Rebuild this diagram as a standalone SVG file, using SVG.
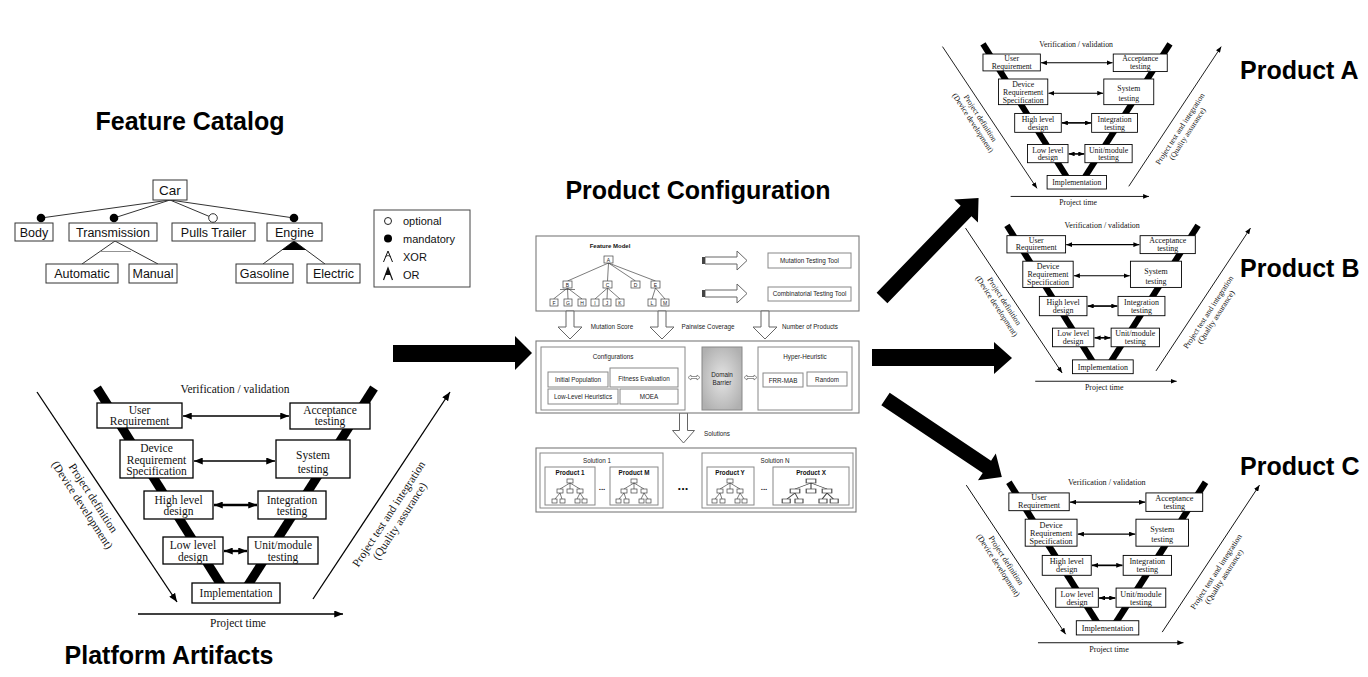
<svg xmlns="http://www.w3.org/2000/svg" width="1368" height="677" viewBox="0 0 1368 677">
<defs>
<style>
.big{font-family:"Liberation Sans",Arial,sans-serif;font-weight:bold;font-size:25px;fill:#000}
.fc{font-family:"Liberation Sans",Arial,sans-serif;font-size:12.5px;fill:#111;text-anchor:middle}
.fb{fill:#fff;stroke:#333;stroke-width:1}
.fl{stroke:#333;stroke-width:1;fill:none}
.lg{font-family:"Liberation Sans",Arial,sans-serif;font-size:11px;fill:#111}
.vt{font-family:"Liberation Serif","Times New Roman",serif;font-size:11.5px;fill:#111;text-anchor:middle}
.vd{font-family:"Liberation Serif","Times New Roman",serif;font-size:11.5px;fill:#111;text-anchor:middle}
.vb{fill:#fff;stroke:#000;stroke-width:1.3}
.bar{stroke:#000;stroke-width:9}
.arr{stroke:#000;stroke-width:1.3;marker-end:url(#ah)}
.darr{stroke:#000;stroke-width:1.6;marker-start:url(#ah);marker-end:url(#ah)}
.darr.b{stroke-width:2.4}
.pc{font-family:"Liberation Sans",Arial,sans-serif;font-size:6.3px;fill:#222;text-anchor:middle}
.pcb{font-family:"Liberation Sans",Arial,sans-serif;font-size:6.3px;fill:#111;text-anchor:middle;font-weight:bold}
.tiny{font-family:"Liberation Sans",Arial,sans-serif;font-size:5px;fill:#222;text-anchor:middle}
.pan{fill:#fff;stroke:#7a7a7a;stroke-width:1.1}
.ib{fill:#fff;stroke:#888;stroke-width:1}
.tl{stroke:#444;stroke-width:0.7;fill:none}
.tb{fill:#fff;stroke:#444;stroke-width:0.7}
.hol{fill:#fff;stroke:#666;stroke-width:1}
.blk{fill:#000}
</style>
<marker id="ah" viewBox="0 0 10 8" refX="10" refY="4" markerWidth="9" markerHeight="7" orient="auto-start-reverse" markerUnits="userSpaceOnUse">
<path d="M0,0 L10,4 L0,8 z" fill="#000"/>
</marker>
<radialGradient id="gb" cx="50%" cy="50%" r="60%">
<stop offset="0" stop-color="#e4e4e4"/>
<stop offset="1" stop-color="#b0b0b0"/>
</radialGradient>
<g id="mt">
<rect class="tb" x="-3" y="0" width="6" height="4"/>
<path class="tl" d="M0,4 L-10,10 M0,4 L0,10 M0,4 L10,10 M-10,14 L-15,20 M-10,14 L-8,20 M10,14 L7,20 M10,14 L14,20"/>
<rect class="tb" x="-13" y="10" width="6" height="4"/>
<rect class="tb" x="-3" y="10" width="6" height="4"/>
<rect class="tb" x="7" y="10" width="6" height="4"/>
<rect class="tb" x="-18" y="20" width="5" height="4"/>
<rect class="tb" x="-10" y="20" width="5" height="4"/>
<rect class="tb" x="5" y="20" width="5" height="4"/>
<rect class="tb" x="12" y="20" width="5" height="4"/>
</g>
</defs>
<rect width="1368" height="677" fill="#fff"/>

<!-- Titles -->
<text class="big" x="190" y="130" text-anchor="middle">Feature Catalog</text>
<text class="big" x="698" y="199" text-anchor="middle">Product Configuration</text>
<text class="big" x="169" y="664" text-anchor="middle">Platform Artifacts</text>
<text class="big" x="1240" y="79">Product A</text>
<text class="big" x="1240" y="277">Product B</text>
<text class="big" x="1240" y="475">Product C</text>

<!-- Feature catalog -->
<g id="feature-catalog">
<g id="fc-connectors">
<path class="fl" d="M170,200 L41,218 M170,200 L114,218 M170,200 L213,218 M170,200 L294,218"/>
<path class="fl" d="M115,241 L82,264 M115,241 L158,264 M294,241 L263,264 M294,241 L325,264"/>
<line x1="101" y1="251.5" x2="131" y2="251.5" stroke="#777" stroke-width="0.8"/>
<path d="M294,241 L281.9,250 L306.1,250 z" fill="#000"/>
<circle cx="41" cy="218" r="4.3" fill="#000"/>
<circle cx="114" cy="218" r="4.3" fill="#000"/>
<circle cx="213" cy="218" r="4.3" fill="#fff" stroke="#333" stroke-width="1"/>
<circle cx="294" cy="218" r="4.3" fill="#000"/>
</g>
<g id="fc-car"><rect class="fb" x="153" y="180" width="34" height="20"/><text class="fc" x="170" y="195" style="font-size:13.5px">Car</text></g>
<g id="fc-body"><rect class="fb" x="15" y="223" width="38" height="18"/><text class="fc" x="34" y="236.5">Body</text></g>
<g id="fc-transmission"><rect class="fb" x="69" y="223" width="88" height="18"/><text class="fc" x="113" y="236.5">Transmission</text></g>
<g id="fc-pulls"><rect class="fb" x="172" y="223" width="83" height="18"/><text class="fc" x="213.5" y="236.5">Pulls Trailer</text></g>
<g id="fc-engine"><rect class="fb" x="267" y="223" width="55" height="18"/><text class="fc" x="294.5" y="236.5">Engine</text></g>
<g id="fc-automatic"><rect class="fb" x="46" y="264" width="72" height="19"/><text class="fc" x="82" y="278">Automatic</text></g>
<g id="fc-manual"><rect class="fb" x="129" y="264" width="48" height="19"/><text class="fc" x="153" y="278">Manual</text></g>
<g id="fc-gasoline"><rect class="fb" x="236" y="264" width="57" height="19"/><text class="fc" x="264.5" y="278">Gasoline</text></g>
<g id="fc-electric"><rect class="fb" x="307" y="264" width="53" height="19"/><text class="fc" x="333.5" y="278">Electric</text></g>
</g>

<!-- Legend -->
<g id="legend">
<rect x="374" y="210" width="96" height="77" fill="#fff" stroke="#444" stroke-width="1"/>
<circle cx="388" cy="221" r="3.5" fill="#fff" stroke="#222" stroke-width="1"/>
<text class="lg" x="403" y="225">optional</text>
<circle cx="388" cy="238.5" r="4" fill="#000"/>
<text class="lg" x="403" y="242.5">mandatory</text>
<path d="M383.5,262 L388,251 L392.5,262" fill="none" stroke="#111" stroke-width="1"/>
<path d="M385.3,256.5 Q388,254.5 390.7,256.5" fill="none" stroke="#111" stroke-width="0.8"/>
<text class="lg" x="403" y="261">XOR</text>
<path d="M383.5,280 L388,268 L392.5,280" fill="none" stroke="#111" stroke-width="1.2"/>
<path d="M388,268 L385.3,275 L390.7,275 z" fill="#111"/>
<text class="lg" x="403" y="279">OR</text>
</g>

<!-- Product configuration: top panel -->
<g id="pc-feature-panel">
<rect class="pan" x="536" y="236" width="323" height="75"/>
<text class="pcb" x="610" y="247.5" style="font-size:6px">Feature Model</text>
<path class="tl" d="M608.5,263 L567.5,281 M608.5,263 L607.5,281 M608.5,263 L635.5,281 M608.5,263 L655.5,281"/>
<path class="tl" d="M567.5,288 L553.5,299 M567.5,288 L568,299 M567.5,288 L582,299 M560,289.5 L575,289.5 M607.5,288 L595,299 M607.5,288 L607,299 M607.5,288 L620,299 M655.5,288 L652,299 M655.5,288 L665,299"/>
<rect class="tb" x="604" y="256" width="9" height="7"/><text class="tiny" x="608.5" y="261.8">A</text>
<rect class="tb" x="563" y="281" width="9" height="7"/><text class="tiny" x="567.5" y="286.8">B</text>
<rect class="tb" x="603" y="281" width="9" height="7"/><text class="tiny" x="607.5" y="286.8">C</text>
<rect class="tb" x="631" y="281" width="9" height="7"/><text class="tiny" x="635.5" y="286.8">D</text>
<rect class="tb" x="651" y="281" width="9" height="7"/><text class="tiny" x="655.5" y="286.8">E</text>
<rect class="tb" x="550" y="299" width="8" height="7"/><text class="tiny" x="554" y="304.8">F</text>
<rect class="tb" x="564" y="299" width="8" height="7"/><text class="tiny" x="568" y="304.8">G</text>
<rect class="tb" x="578" y="299" width="8" height="7"/><text class="tiny" x="582" y="304.8">H</text>
<rect class="tb" x="591" y="299" width="8" height="7"/><text class="tiny" x="595" y="304.8">I</text>
<rect class="tb" x="603" y="299" width="8" height="7"/><text class="tiny" x="607" y="304.8">J</text>
<rect class="tb" x="616" y="299" width="8" height="7"/><text class="tiny" x="620" y="304.8">K</text>
<rect class="tb" x="648" y="299" width="8" height="7"/><text class="tiny" x="652" y="304.8">L</text>
<rect class="tb" x="661" y="299" width="8" height="7"/><text class="tiny" x="665" y="304.8">M</text>
<polygon class="hol" points="705,257 737,257 737,251 747,260.5 737,270 737,264 705,264"/>
<rect x="702" y="257" width="3" height="7" fill="#444"/>
<polygon class="hol" points="705,290 737,290 737,284 747,293.5 737,303 737,297 705,297"/>
<rect x="702" y="290" width="3" height="7" fill="#444"/>
<g id="pc-mutation-tool"><rect class="ib" x="768" y="253" width="83" height="15"/><text class="pc" x="809.5" y="263">Mutation Testing Tool</text></g>
<g id="pc-comb-tool"><rect class="ib" x="768" y="287" width="83" height="14"/><text class="pc" x="809.5" y="296.3">Combinatorial Testing Tool</text></g>
</g>

<!-- Down arrows -->
<g id="pc-down-arrows">
<polygon class="hol" points="566,311 574,311 574,327 582,327 570,339 558,327 566,327"/>
<polygon class="hol" points="658,311 666,311 666,327 674,327 662,339 650,327 658,327"/>
<polygon class="hol" points="761,311 769,311 769,327 777,327 765,339 753,327 761,327"/>
<text class="pc" x="612" y="329">Mutation Score</text>
<text class="pc" x="708" y="329">Pairwise Coverage</text>
<text class="pc" x="810" y="329">Number of Products</text>
<polygon class="hol" points="679.5,413 687.5,413 687.5,430.5 694.5,430.5 683.5,443 672.5,430.5 679.5,430.5"/>
<text class="pc" x="717" y="436">Solutions</text>
</g>

<!-- Middle panel -->
<g id="pc-search-panel">
<rect class="pan" x="536" y="341" width="323" height="72"/>
<g id="pc-configurations">
<rect class="ib" x="541" y="347" width="144" height="63"/>
<text class="pc" x="613" y="359">Configurations</text>
<rect class="ib" x="548" y="372" width="60" height="15"/><text class="pc" x="578" y="382">Initial Population</text>
<rect class="ib" x="610" y="368" width="68" height="19"/><text class="pc" x="644" y="381">Fitness Evaluation</text>
<rect class="ib" x="548" y="389" width="70" height="15"/><text class="pc" x="583" y="399">Low-Level Heuristics</text>
<rect class="ib" x="620" y="389" width="58" height="15"/><text class="pc" x="649" y="399">MOEA</text>
</g>
<polygon class="hol" points="688,377.5 691,375 691,376.5 697,376.5 697,375 700,377.5 697,380 697,378.5 691,378.5 691,380" style="stroke-width:0.7"/>
<g id="pc-domain-barrier">
<rect x="702" y="347" width="40" height="63" fill="url(#gb)" stroke="#888" stroke-width="1"/>
<text class="pc" x="722" y="377">Domain</text>
<text class="pc" x="722" y="385">Barrier</text>
</g>
<polygon class="hol" points="744,377.5 747,375 747,376.5 754,376.5 754,375 757,377.5 754,380 754,378.5 747,378.5 747,380" style="stroke-width:0.7"/>
<g id="pc-hyper-heuristic">
<rect class="ib" x="758" y="347" width="94" height="63"/>
<text class="pc" x="805" y="359">Hyper-Heuristic</text>
<rect class="ib" x="763" y="373" width="40" height="14"/><text class="pc" x="783" y="382.5">FRR-MAB</text>
<rect class="ib" x="807" y="372" width="40" height="14"/><text class="pc" x="827" y="381.5">Random</text>
</g>
</g>

<!-- Bottom panel -->
<g id="pc-solutions-panel">
<rect class="pan" x="536" y="448" width="320" height="64"/>
<g id="pc-solution-1">
<rect class="ib" x="540" y="453" width="123" height="55"/>
<text class="pc" x="597" y="463">Solution 1</text>
<rect class="ib" x="545" y="467" width="50" height="38"/><text class="pcb" x="570" y="475">Product 1</text>
<use href="#mt" transform="translate(570,479)"/>
<text class="pcb" x="602" y="490" style="font-size:8px">...</text>
<rect class="ib" x="610" y="467" width="48" height="38"/><text class="pcb" x="634" y="475">Product M</text>
<use href="#mt" transform="translate(634,479)"/>
</g>
<text class="pcb" x="683" y="490" style="font-size:13px">...</text>
<g id="pc-solution-n">
<rect class="ib" x="702" y="453" width="151" height="55"/>
<text class="pc" x="775" y="463">Solution N</text>
<rect class="ib" x="707" y="467" width="47" height="38"/><text class="pcb" x="730" y="475">Product Y</text>
<use href="#mt" transform="translate(730,479)"/>
<text class="pcb" x="764" y="490" style="font-size:8px">...</text>
<rect class="ib" x="773" y="467" width="76" height="38"/><text class="pcb" x="811" y="475">Product X</text>
<use href="#mt" transform="translate(811,479) scale(1.6,1)"/>
</g>
</g>

<!-- Big flow arrows -->
<g id="flow-arrows">
<polygon class="blk" points="393,345 515,345 515,336 532,353 515,370 515,362 393,362"/>
<polygon class="blk" points="872,349 994,349 994,342 1012,358 994,374 994,366 872,366"/>
<polygon class="blk" transform="translate(882,298) rotate(-46)" points="0,-7.5 121,-7.5 121,-16.5 139,0 121,16.5 121,7.5 0,7.5"/>
<polygon class="blk" transform="translate(885.5,399) rotate(33.8)" points="0,-7.5 122,-7.5 122,-16 140,0 122,16 122,7.5 0,7.5"/>
</g>

<!-- V-model: Platform Artifacts -->
<g id="vm-platform">
<line class="bar" x1="97" y1="388" x2="228" y2="596"/>
<line class="bar" x1="374" y1="388" x2="241" y2="596"/>
<text class="vt" x="235" y="392.5">Verification / validation</text>
<g id="vm-platform-connectors">
<line class="arr" x1="37" y1="392" x2="177" y2="602"/>
<line class="arr" x1="313" y1="599" x2="450" y2="392"/>
<line class="arr" x1="138" y1="614" x2="343" y2="614"/>
<line class="darr" x1="183" y1="416" x2="289" y2="416"/>
<line class="darr" x1="194" y1="461" x2="275" y2="461"/>
<line class="darr b" x1="214" y1="505" x2="257" y2="505"/>
<line class="darr b" x1="224" y1="551" x2="247" y2="551"/>
</g>
<text class="vt" x="238" y="627">Project time</text>
<g transform="translate(90,500) rotate(57)"><text class="vd">Project definition</text><text class="vd" y="13">(Device development)</text></g>
<g transform="translate(392,516) rotate(-57)"><text class="vd">Project test and integration</text><text class="vd" y="13">(Quality assurance)</text></g>
<g id="p-ur"><rect class="vb" x="97" y="403" width="85" height="25"/><text class="vt" x="139.5" y="413.5">User</text><text class="vt" x="139.5" y="424.5">Requirement</text></g>
<g id="p-at"><rect class="vb" x="290" y="403" width="80" height="26"/><text class="vt" x="330" y="414">Acceptance</text><text class="vt" x="330" y="425">testing</text></g>
<g id="p-drs"><rect class="vb" x="120" y="440" width="73" height="38"/><text class="vt" x="156.5" y="452">Device</text><text class="vt" x="156.5" y="463.5">Requirement</text><text class="vt" x="156.5" y="475">Specification</text></g>
<g id="p-st"><rect class="vb" x="276" y="440" width="74" height="38"/><text class="vt" x="313" y="458.5">System</text><text class="vt" x="313" y="472.5">testing</text></g>
<g id="p-hl"><rect class="vb" x="144" y="491" width="69" height="28"/><text class="vt" x="178.5" y="503.5">High level</text><text class="vt" x="178.5" y="515">design</text></g>
<g id="p-it"><rect class="vb" x="258" y="491" width="68" height="28"/><text class="vt" x="292" y="503.5">Integration</text><text class="vt" x="292" y="515">testing</text></g>
<g id="p-ll"><rect class="vb" x="163" y="537" width="60" height="27"/><text class="vt" x="193" y="549">Low level</text><text class="vt" x="193" y="560.5">design</text></g>
<g id="p-um"><rect class="vb" x="248" y="537" width="70" height="27"/><text class="vt" x="283" y="549">Unit/module</text><text class="vt" x="283" y="560.5">testing</text></g>
<g id="p-impl"><rect class="vb" x="192" y="583" width="88" height="20"/><text class="vt" x="236" y="597">Implementation</text></g>
</g>

<!-- V-model: Product A -->
<g id="vm-product-a" transform="translate(917.5,-218) scale(0.675)">
<line class="bar" x1="97" y1="388" x2="228" y2="596"/>
<line class="bar" x1="374" y1="388" x2="241" y2="596"/>
<text class="vt" x="235" y="392.5">Verification / validation</text>
<g id="vm-a-connectors">
<line class="arr" x1="37" y1="392" x2="177" y2="602"/>
<line class="arr" x1="313" y1="599" x2="450" y2="392"/>
<line class="arr" x1="138" y1="614" x2="343" y2="614"/>
<line class="darr" x1="183" y1="416" x2="289" y2="416"/>
<line class="darr" x1="194" y1="461" x2="275" y2="461"/>
<line class="darr b" x1="214" y1="505" x2="257" y2="505"/>
<line class="darr b" x1="224" y1="551" x2="247" y2="551"/>
</g>
<text class="vt" x="238" y="627">Project time</text>
<g transform="translate(90,500) rotate(57)"><text class="vd">Project definition</text><text class="vd" y="13">(Device development)</text></g>
<g transform="translate(392,516) rotate(-57)"><text class="vd">Project test and integration</text><text class="vd" y="13">(Quality assurance)</text></g>
<g id="a-ur"><rect class="vb" x="97" y="403" width="85" height="25"/><text class="vt" x="139.5" y="413.5">User</text><text class="vt" x="139.5" y="424.5">Requirement</text></g>
<g id="a-at"><rect class="vb" x="290" y="403" width="80" height="26"/><text class="vt" x="330" y="414">Acceptance</text><text class="vt" x="330" y="425">testing</text></g>
<g id="a-drs"><rect class="vb" x="120" y="440" width="73" height="38"/><text class="vt" x="156.5" y="452">Device</text><text class="vt" x="156.5" y="463.5">Requirement</text><text class="vt" x="156.5" y="475">Specification</text></g>
<g id="a-st"><rect class="vb" x="276" y="440" width="74" height="38"/><text class="vt" x="313" y="458.5">System</text><text class="vt" x="313" y="472.5">testing</text></g>
<g id="a-hl"><rect class="vb" x="144" y="491" width="69" height="28"/><text class="vt" x="178.5" y="503.5">High level</text><text class="vt" x="178.5" y="515">design</text></g>
<g id="a-it"><rect class="vb" x="258" y="491" width="68" height="28"/><text class="vt" x="292" y="503.5">Integration</text><text class="vt" x="292" y="515">testing</text></g>
<g id="a-ll"><rect class="vb" x="163" y="537" width="60" height="27"/><text class="vt" x="193" y="549">Low level</text><text class="vt" x="193" y="560.5">design</text></g>
<g id="a-um"><rect class="vb" x="248" y="537" width="70" height="27"/><text class="vt" x="283" y="549">Unit/module</text><text class="vt" x="283" y="560.5">testing</text></g>
<g id="a-impl"><rect class="vb" x="192" y="583" width="88" height="20"/><text class="vt" x="236" y="597">Implementation</text></g>
</g>

<!-- V-model: Product B -->
<g id="vm-product-b" transform="translate(940,-42.4) scale(0.69)">
<line class="bar" x1="97" y1="388" x2="228" y2="596"/>
<line class="bar" x1="374" y1="388" x2="241" y2="596"/>
<text class="vt" x="235" y="392.5">Verification / validation</text>
<g id="vm-b-connectors">
<line class="arr" x1="37" y1="392" x2="177" y2="602"/>
<line class="arr" x1="313" y1="599" x2="450" y2="392"/>
<line class="arr" x1="138" y1="614" x2="343" y2="614"/>
<line class="darr" x1="183" y1="416" x2="289" y2="416"/>
<line class="darr" x1="194" y1="461" x2="275" y2="461"/>
<line class="darr b" x1="214" y1="505" x2="257" y2="505"/>
<line class="darr b" x1="224" y1="551" x2="247" y2="551"/>
</g>
<text class="vt" x="238" y="627">Project time</text>
<g transform="translate(90,500) rotate(57)"><text class="vd">Project definition</text><text class="vd" y="13">(Device development)</text></g>
<g transform="translate(392,516) rotate(-57)"><text class="vd">Project test and integration</text><text class="vd" y="13">(Quality assurance)</text></g>
<g id="b-ur"><rect class="vb" x="97" y="403" width="85" height="25"/><text class="vt" x="139.5" y="413.5">User</text><text class="vt" x="139.5" y="424.5">Requirement</text></g>
<g id="b-at"><rect class="vb" x="290" y="403" width="80" height="26"/><text class="vt" x="330" y="414">Acceptance</text><text class="vt" x="330" y="425">testing</text></g>
<g id="b-drs"><rect class="vb" x="120" y="440" width="73" height="38"/><text class="vt" x="156.5" y="452">Device</text><text class="vt" x="156.5" y="463.5">Requirement</text><text class="vt" x="156.5" y="475">Specification</text></g>
<g id="b-st"><rect class="vb" x="276" y="440" width="74" height="38"/><text class="vt" x="313" y="458.5">System</text><text class="vt" x="313" y="472.5">testing</text></g>
<g id="b-hl"><rect class="vb" x="144" y="491" width="69" height="28"/><text class="vt" x="178.5" y="503.5">High level</text><text class="vt" x="178.5" y="515">design</text></g>
<g id="b-it"><rect class="vb" x="258" y="491" width="68" height="28"/><text class="vt" x="292" y="503.5">Integration</text><text class="vt" x="292" y="515">testing</text></g>
<g id="b-ll"><rect class="vb" x="163" y="537" width="60" height="27"/><text class="vt" x="193" y="549">Low level</text><text class="vt" x="193" y="560.5">design</text></g>
<g id="b-um"><rect class="vb" x="248" y="537" width="70" height="27"/><text class="vt" x="283" y="549">Unit/module</text><text class="vt" x="283" y="560.5">testing</text></g>
<g id="b-impl"><rect class="vb" x="192" y="583" width="88" height="20"/><text class="vt" x="236" y="597">Implementation</text></g>
</g>

<!-- V-model: Product C -->
<g id="vm-product-c" transform="translate(940,206.8) scale(0.71)">
<line class="bar" x1="97" y1="388" x2="228" y2="596"/>
<line class="bar" x1="374" y1="388" x2="241" y2="596"/>
<text class="vt" x="235" y="392.5">Verification / validation</text>
<g id="vm-c-connectors">
<line class="arr" x1="37" y1="392" x2="177" y2="602"/>
<line class="arr" x1="313" y1="599" x2="450" y2="392"/>
<line class="arr" x1="138" y1="614" x2="343" y2="614"/>
<line class="darr" x1="183" y1="416" x2="289" y2="416"/>
<line class="darr" x1="194" y1="461" x2="275" y2="461"/>
<line class="darr b" x1="214" y1="505" x2="257" y2="505"/>
<line class="darr b" x1="224" y1="551" x2="247" y2="551"/>
</g>
<text class="vt" x="238" y="627">Project time</text>
<g transform="translate(90,500) rotate(57)"><text class="vd">Project definition</text><text class="vd" y="13">(Device development)</text></g>
<g transform="translate(392,516) rotate(-57)"><text class="vd">Project test and integration</text><text class="vd" y="13">(Quality assurance)</text></g>
<g id="c-ur"><rect class="vb" x="97" y="403" width="85" height="25"/><text class="vt" x="139.5" y="413.5">User</text><text class="vt" x="139.5" y="424.5">Requirement</text></g>
<g id="c-at"><rect class="vb" x="290" y="403" width="80" height="26"/><text class="vt" x="330" y="414">Acceptance</text><text class="vt" x="330" y="425">testing</text></g>
<g id="c-drs"><rect class="vb" x="120" y="440" width="73" height="38"/><text class="vt" x="156.5" y="452">Device</text><text class="vt" x="156.5" y="463.5">Requirement</text><text class="vt" x="156.5" y="475">Specification</text></g>
<g id="c-st"><rect class="vb" x="276" y="440" width="74" height="38"/><text class="vt" x="313" y="458.5">System</text><text class="vt" x="313" y="472.5">testing</text></g>
<g id="c-hl"><rect class="vb" x="144" y="491" width="69" height="28"/><text class="vt" x="178.5" y="503.5">High level</text><text class="vt" x="178.5" y="515">design</text></g>
<g id="c-it"><rect class="vb" x="258" y="491" width="68" height="28"/><text class="vt" x="292" y="503.5">Integration</text><text class="vt" x="292" y="515">testing</text></g>
<g id="c-ll"><rect class="vb" x="163" y="537" width="60" height="27"/><text class="vt" x="193" y="549">Low level</text><text class="vt" x="193" y="560.5">design</text></g>
<g id="c-um"><rect class="vb" x="248" y="537" width="70" height="27"/><text class="vt" x="283" y="549">Unit/module</text><text class="vt" x="283" y="560.5">testing</text></g>
<g id="c-impl"><rect class="vb" x="192" y="583" width="88" height="20"/><text class="vt" x="236" y="597">Implementation</text></g>
</g>
</svg>
